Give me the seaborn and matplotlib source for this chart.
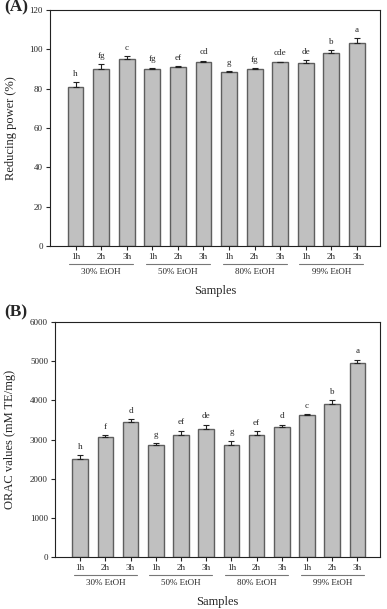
import numpy as np
import pandas as pd
import matplotlib
matplotlib.use("Agg")
import matplotlib.pyplot as plt
import matplotlib.transforms as mtransforms
import seaborn as sns

# Dados
samples = ["30-1h", "30-2h", "30-3h", "50-1h", "50-2h", "50-3h",
           "80-1h", "80-2h", "80-3h", "99-1h", "99-2h", "99-3h"]
hour_labels = ["1h", "2h", "3h"] * 4
groups = ["30% EtOH", "50% EtOH", "80% EtOH", "99% EtOH"]

reducing = [81.0, 89.9, 95.3, 90.2, 91.2, 93.6, 88.7, 90.2, 93.4, 92.9, 98.3, 103.0]
reducing_err = [2.2, 2.7, 1.3, 0.5, 0.3, 0.7, 0.3, 0.3, 0.4, 1.5, 1.2, 2.6]
reducing_letters = ["h", "fg", "c", "fg", "ef", "cd", "g", "fg", "cde", "de", "b", "a"]

orac = [2510, 3060, 3443, 2864, 3120, 3273, 2864, 3110, 3315, 3640, 3900, 4966]
orac_err = [95, 60, 75, 50, 110, 110, 110, 100, 70, 15, 117, 77]
orac_letters = ["h", "f", "d", "g", "ef", "de", "g", "ef", "d", "c", "b", "a"]

sns.set_style("ticks")
plt.rcParams["font.family"] = ["Liberation Serif", "DejaVu Serif"]

fig = plt.figure(figsize=(3.87, 6.09), dpi=100)
ax_a = fig.add_axes([0.129, 0.596, 0.853, 0.3876])
ax_b = fig.add_axes([0.142, 0.0854, 0.840, 0.3856])


def painel(ax, valores, erros, letras, ylabel, ymax, passo, tag, tag_x, tag_y, y_lbl_x):
    df = pd.DataFrame({"Amostra": samples, "Valor": valores})
    sns.barplot(data=df, x="Amostra", y="Valor", order=samples, ax=ax,
                color="#c0c0c0", saturation=1, width=0.62,
                edgecolor="#5e5e5e", linewidth=1.0, errorbar=None)
    pos = np.arange(len(samples))
    ax.errorbar(pos, valores, yerr=[np.zeros(len(erros)), erros], fmt="none",
                ecolor="#222222", elinewidth=0.8, capsize=2.5, capthick=0.8)
    for x, v, e, l in zip(pos, valores, erros, letras):
        ax.annotate(l, (x, v + e), xytext=(0, 3), textcoords="offset points",
                    ha="center", va="bottom", fontsize=6.5)

    ax.set_xlim(-1.0, 11.9)
    ax.set_ylim(0, ymax)
    ax.set_yticks(np.arange(0, ymax + 1, passo))
    ax.set_xticks(pos)
    ax.set_xticklabels(hour_labels)
    ax.tick_params(axis="both", labelsize=6.5, length=3, width=0.8, direction="out", pad=2)
    for s in ax.spines.values():
        s.set_visible(True)
        s.set_linewidth(0.8)
        s.set_color("#222222")

    ax.set_ylabel(ylabel, fontsize=9)
    ax.yaxis.set_label_coords(y_lbl_x, 0.5)
    ax.set_xlabel("Samples", fontsize=9, labelpad=17)

    trans = mtransforms.blended_transform_factory(ax.transData, ax.transAxes)
    for i, g in enumerate(groups):
        x0 = i * 3 - 0.25
        x1 = i * 3 + 2.25
        ax.plot([x0, x1], [-0.077, -0.077], transform=trans, color="#777777",
                lw=0.8, clip_on=False)
        ax.text(i * 3 + 1, -0.093, g, transform=trans, ha="center", va="top",
                fontsize=6.5)

    ax.text(tag_x, tag_y, tag, transform=ax.transAxes, ha="right", va="center",
            fontsize=12.5, fontweight="bold")


painel(ax_a, reducing, reducing_err, reducing_letters,
       "Reducing power (%)", 120, 20, "(A)", -0.066, 1.013, -0.1)
painel(ax_b, orac, orac_err, orac_letters,
       "ORAC values (mM TE/mg)", 6000, 1000, "(B)", -0.085, 1.043, -0.12)

fig.savefig("out.png", dpi=100)
